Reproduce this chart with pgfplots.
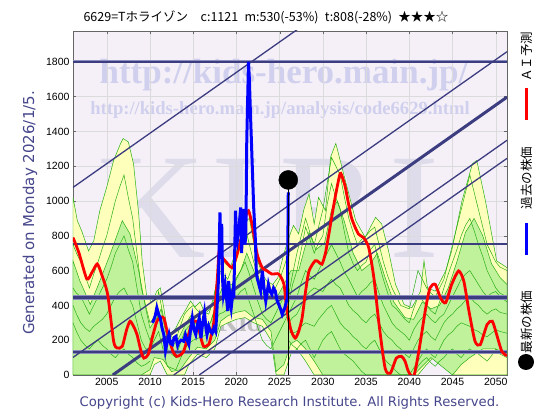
\documentclass[border=0pt]{standalone}
\usepackage{fontspec}
\setmainfont{Liberation Sans}
\newfontfamily\jp{Noto Sans CJK JP}
\newfontfamily\dv{DejaVu Sans}
\newfontfamily\lserif{Liberation Serif}
\usepackage{pgfplots}
\pgfplotsset{compat=1.18}
\definecolor{bgc}{RGB}{245,240,247}
\definecolor{wmc}{RGB}{208,208,238}
\definecolor{wmk}{RGB}{222,220,234}
\definecolor{yel}{RGB}{255,255,188}
\definecolor{lgr}{RGB}{192,242,155}
\definecolor{gln}{RGB}{40,175,20}
\definecolor{navy}{RGB}{60,60,128}
\definecolor{navyl}{RGB}{140,140,190}
\definecolor{txtb}{RGB}{70,70,140}
\begin{document}
\begin{tikzpicture}[x=1pt,y=1pt]
\path[use as bounding box, fill=white] (0,0) rectangle (560,420);
\fill[bgc] (73,45) rectangle (507,389);
% watermarks
\node[text=wmk, font=\lserif\fontsize{150}{150}\selectfont, inner sep=0] at (152,212) {K};
\node[text=wmk, font=\lserif\fontsize{150}{150}\selectfont, inner sep=0] at (236,212) {I};
\node[text=wmk, font=\lserif\fontsize{150}{150}\selectfont, inner sep=0] at (330,212) {R};
\node[text=wmk, font=\lserif\fontsize{150}{150}\selectfont, inner sep=0] at (414,212) {I};
\node[text=wmc, font=\lserif\bfseries\fontsize{35}{35}\selectfont, inner sep=0] at (284,345) {http://kids-hero.main.jp/};
\node[text=wmc, font=\lserif\bfseries\fontsize{18.6}{19}\selectfont, inner sep=0] at (280,310) {http://kids-hero.main.jp/analysis/code6629.html};
\node[text=black!25, font=\lserif\bfseries\fontsize{28}{28}\selectfont, inner sep=0] at (245,98) {Kids};
\begin{axis}[at={(73pt,45pt)}, anchor=south west, width=434pt, height=344pt, scale only axis,
  xmin=2001.1, xmax=2051.3, ymin=0, ymax=1977,
  xtick={2005,2010,...,2050}, ytick={0,200,...,1800},
  /pgf/number format/1000 sep={}, /pgf/number format/assume math mode=true,
  tick label style={font=\fontsize{10.5}{12}\selectfont},
  grid=major, grid style={draw=gray!28, line width=0.4pt},
  axis line style={draw=gray!80!black, line width=0.5pt},
  tick style={draw=gray!80!black}, major tick length=3pt,
  clip=true, axis on top=false]
% outer envelope
\addplot[fill=yel, draw=gln, line width=0.5pt] coordinates {
(2001.1,1021)(2001.6,887)(2002.1,829)(2002.9,713)(2003.5,771)(2004.2,944)(2005.0,1079)(2005.8,1233)(2006.6,1330)(2006.9,1359)(2007.5,1339)(2008.1,1214)(2008.7,925)(2009.1,656)(2009.6,463)(2010.2,415)(2010.8,482)(2011.2,501)(2011.6,386)(2012.0,260)(2012.5,240)(2013.0,270)(2013.6,330)(2014.2,380)(2014.7,425)(2015.2,390)(2015.8,420)(2016.3,360)(2016.8,350)(2017.3,420)(2017.8,560)(2018.2,720)(2018.7,640)(2019.3,620)(2019.9,700)(2020.5,780)(2021.0,880)(2021.5,900)(2022.0,760)(2022.5,650)(2023.0,580)(2023.5,540)(2024.2,520)(2024.8,560)(2025.4,680)(2026.0,780)(2026.6,860)(2027.2,811)(2027.8,950)(2028.4,1041)(2029.0,868)(2029.5,1021)(2030.3,944)(2030.9,1253)(2031.5,1331)(2032.2,1195)(2033.0,1041)(2033.8,887)(2034.9,790)(2035.5,850)(2036.1,906)(2036.8,868)(2037.6,713)(2038.4,521)(2039.4,405)(2040.3,386)(2041.3,482)(2041.7,656)(2042.1,501)(2043.0,482)(2044.2,598)(2044.9,713)(2046.1,1002)(2047.3,1214)(2047.8,1233)(2048.8,1002)(2049.6,790)(2050.1,656)(2051.3,617)
(2051.3,0)(2045.0,0)(2044.2,60)(2043.0,110)(2042.0,60)(2041.0,0)(2029.0,0)(2028.0,80)(2027.0,150)(2026.3,120)(2025.5,0)(2024.6,0)(2024.0,200)(2023.0,280)(2022.0,300)(2021.0,330)(2020.0,320)(2019.0,300)(2018.2,280)(2017.5,150)(2016.5,100)(2015.5,120)(2014.5,60)(2014.0,0)(2012.0,0)(2011.2,80)(2010.5,60)(2010.0,0)(2001.1,0)} -- cycle;
% inner envelope
\addplot[fill=lgr, draw=gln, line width=0.5pt] coordinates {
(2001.1,656)(2001.9,540)(2003.1,405)(2004.2,540)(2005.4,694)(2006.8,887)(2007.7,810)(2008.7,598)(2009.5,386)(2010.0,270)(2010.8,330)(2011.3,380)(2011.8,250)(2012.5,160)(2013.2,200)(2014.0,280)(2014.7,340)(2015.5,300)(2016.3,280)(2017.0,300)(2017.8,430)(2018.5,520)(2019.5,520)(2020.5,600)(2021.2,700)(2022.0,600)(2022.8,480)(2023.5,450)(2024.5,430)(2025.5,520)(2026.3,600)(2027.2,600)(2028.4,820)(2029.2,720)(2030.2,760)(2031.0,950)(2031.7,1000)(2032.5,880)(2033.5,700)(2034.5,600)(2035.5,640)(2036.3,700)(2037.2,560)(2038.2,420)(2039.5,330)(2040.5,320)(2041.5,420)(2042.5,380)(2043.5,400)(2044.5,500)(2045.5,650)(2046.5,820)(2047.5,900)(2048.5,800)(2049.5,640)(2050.5,560)(2051.3,520)
(2051.3,120)(2050,150)(2048.5,150)(2047,100)(2046,60)(2045,0)(2043.5,60)(2042.5,100)(2041.5,50)(2040.5,0)(2030.0,0)(2029.0,80)(2028,150)(2027,200)(2026.3,180)(2025.5,60)(2024.6,20)(2024.0,250)(2023,320)(2022,330)(2021,370)(2020,360)(2019,340)(2018.2,310)(2017.5,200)(2016.5,150)(2015.5,160)(2014.5,100)(2013.5,30)(2012.5,20)(2011.5,90)(2010.5,100)(2010.0,30)(2009.0,0)(2001.1,0)} -- cycle;
% green simulation paths
\pgfplotsset{gp/.style={draw=gln, line width=0.5pt}}
\addplot[gp] coordinates {(2026,400)(2026.5,520)(2027,600)(2027.5,720)(2028,850)(2028.5,780)(2029,700)(2029.5,760)(2030,800)(2030.5,980)(2031,1100)(2031.5,1020)(2032,950)(2032.5,820)(2033,700)(2033.5,640)(2034,600)(2034.5,630)(2035,650)(2035.5,720)(2036,750)(2036.5,640)(2037,550)(2037.5,470)(2038,400)(2038.5,380)(2039,350)(2039.5,320)(2040,300)(2040.5,380)(2041,450)(2041.5,430)(2042,400)(2042.5,370)(2043,350)(2043.5,420)(2044,500)(2044.5,580)(2045,650)(2045.5,720)(2046,800)(2046.5,860)(2047,900)(2047.5,830)(2048,750)(2048.5,680)(2049,600)(2049.5,550)(2050,500)(2050.5,470)(2051.3,450)};
\addplot[gp] coordinates {(2026,350)(2026.5,400)(2027,450)(2027.5,530)(2028,600)(2028.5,570)(2029,550)(2029.5,600)(2030,650)(2030.5,700)(2031,750)(2031.5,700)(2032,650)(2032.5,590)(2033,550)(2033.5,500)(2034,450)(2034.5,480)(2035,500)(2035.5,530)(2036,550)(2036.5,470)(2037,400)(2037.5,350)(2038,300)(2038.5,270)(2039,250)(2039.5,230)(2040,200)(2040.5,260)(2041,300)(2041.5,330)(2042,350)(2042.5,320)(2043,300)(2043.5,330)(2044,350)(2044.5,400)(2045,450)(2045.5,500)(2046,550)(2046.5,580)(2047,600)(2047.5,560)(2048,520)(2048.5,480)(2049,450)(2049.5,470)(2050,480)(2050.5,450)(2051.3,420)};
\addplot[gp] coordinates {(2026,300)(2026.5,330)(2027,350)(2027.5,400)(2028,450)(2028.5,480)(2029,500)(2029.5,490)(2030,480)(2030.5,520)(2031,550)(2031.5,520)(2032,500)(2032.5,450)(2033,400)(2033.5,370)(2034,350)(2034.5,320)(2035,300)(2035.5,330)(2036,350)(2036.5,300)(2037,250)(2037.5,220)(2038,200)(2038.5,170)(2039,150)(2039.5,120)(2040,100)(2040.5,150)(2041,200)(2041.5,230)(2042,250)(2042.5,220)(2043,200)(2043.5,250)(2044,300)(2044.5,330)(2045,350)(2045.5,380)(2046,400)(2046.5,430)(2047,450)(2047.5,420)(2048,400)(2048.5,370)(2049,350)(2049.5,370)(2050,380)(2050.5,360)(2051.3,350)};
\addplot[gp] coordinates {(2026,250)(2026.5,240)(2027,250)(2027.5,280)(2028,300)(2028.5,290)(2029,280)(2029.5,320)(2030,350)(2030.5,380)(2031,400)(2031.5,350)(2032,300)(2032.5,270)(2033,250)(2033.5,220)(2034,200)(2034.5,170)(2035,150)(2035.5,180)(2036,200)(2036.5,150)(2037,100)(2037.5,70)(2038,50)(2038.5,20)(2039,0)(2040,0)(2040.5,40)(2041,80)(2041.5,120)(2042,150)(2042.5,120)(2043,100)(2043.5,150)(2044,200)(2044.5,230)(2045,250)(2045.5,280)(2046,300)(2046.5,290)(2047,280)(2047.5,260)(2048,250)(2048.5,230)(2049,220)(2049.5,240)(2050,260)(2050.5,250)(2051.3,240)};
\addplot[gp] coordinates {(2026,200)(2026.5,170)(2027,150)(2027.5,180)(2028,200)(2028.5,150)(2029,100)(2029.5,150)(2030,200)(2030.5,230)(2031,250)(2031.5,200)(2032,150)(2032.5,120)(2033,100)(2033.5,80)(2034,50)(2034.5,20)(2035,0)(2040.5,0)(2041,50)(2041.5,80)(2042,100)(2042.5,70)(2043,50)(2043.5,80)(2044,100)(2044.5,130)(2045,150)(2045.5,120)(2046,100)(2046.5,130)(2047,150)(2047.5,130)(2048,120)(2048.5,100)(2049,80)(2049.5,110)(2050,150)(2050.5,120)(2051.3,100)};
\addplot[gp] coordinates {(2026,450)(2026.5,580)(2027,700)(2027.5,800)(2028,900)(2028.5,820)(2029,750)(2029.5,850)(2030,950)(2030.5,1100)(2031,1250)(2031.5,1200)(2032,1150)(2032.5,1020)(2033,900)(2033.5,820)(2034,750)(2034.5,780)(2035,800)(2035.5,830)(2036,850)(2036.5,750)(2037,650)(2037.5,570)(2038,500)(2038.5,450)(2039,400)(2039.5,390)(2040,380)(2040.5,490)(2041,600)(2041.5,550)(2042,500)(2042.5,470)(2043,450)(2043.5,500)(2044,550)(2044.5,650)(2045,750)(2045.5,850)(2046,950)(2046.5,1050)(2047,1150)(2047.5,1050)(2048,950)(2048.5,850)(2049,750)(2049.5,700)(2050,650)(2050.5,620)(2051.3,600)};
\addplot[gp] coordinates {(2001.1,750)(2001.5,700)(2002,650)(2002.5,570)(2003,500)(2003.5,580)(2004,650)(2004.5,730)(2005,800)(2005.5,900)(2006,1000)(2006.5,1080)(2007,1150)(2007.5,1020)(2008,900)(2008.5,700)(2009,500)(2009.5,400)(2010,300)(2010.5,330)(2011,480)(2011.5,350)(2012,250)(2012.5,220)(2013,200)(2013.5,280)(2014,350)(2014.5,380)(2015,400)(2015.5,370)(2016,350)(2016.5,360)(2017,380)(2017.5,480)(2018,600)(2018.5,580)(2019,550)(2019.5,620)(2020,700)(2020.5,780)(2021,850)(2021.5,750)(2022,650)(2022.5,570)(2023,500)(2023.5,470)(2024,450)(2024.5,500)(2025,550)(2025.5,620)(2026,700)};
\addplot[gp] coordinates {(2001.1,500)(2001.5,470)(2002,450)(2002.5,400)(2003,350)(2003.5,400)(2004,450)(2004.5,500)(2005,550)(2005.5,620)(2006,700)(2006.5,750)(2007,800)(2007.5,720)(2008,650)(2008.5,500)(2009,350)(2009.5,270)(2010,200)(2010.5,260)(2011,350)(2011.5,250)(2012,150)(2012.5,120)(2013,100)(2013.5,180)(2014,250)(2014.5,280)(2015,300)(2015.5,290)(2016,280)(2016.5,290)(2017,300)(2017.5,380)(2018,450)(2018.5,450)(2019,450)(2019.5,500)(2020,550)(2020.5,600)(2021,650)(2021.5,580)(2022,500)(2022.5,420)(2023,350)(2023.5,320)(2024,300)(2024.5,350)(2025,400)(2025.5,450)(2026,500)};
\addplot[gp] coordinates {(2001.1,400)(2001.5,350)(2002,300)(2002.5,270)(2003,250)(2003.5,280)(2004,300)(2004.5,320)(2005,350)(2005.5,400)(2006,450)(2006.5,480)(2007,500)(2007.5,450)(2008,400)(2008.5,300)(2009,200)(2009.5,150)(2010,150)(2010.5,200)(2011,250)(2011.5,150)(2012,50)(2012.5,40)(2013,30)(2013.5,90)(2014,150)(2014.5,180)(2015,200)(2015.5,210)(2016,220)(2016.5,230)(2017,250)(2017.5,300)(2018,350)(2018.5,360)(2019,380)(2019.5,420)(2020,450)(2020.5,480)(2021,500)(2021.5,420)(2022,350)(2022.5,270)(2023,200)(2023.5,170)(2024,150)(2024.5,200)(2025,250)(2025.5,300)(2026,350)};
\addplot[gp] coordinates {(2001.1,300)(2001.5,250)(2002,200)(2002.5,170)(2003,150)(2003.5,180)(2004,200)(2004.5,170)(2005,150)(2005.5,120)(2006,100)(2006.5,130)(2007,150)(2007.5,120)(2008,100)(2008.5,70)(2009,50)(2009.5,60)(2010,80)};
% horizontal lines
\addplot[navyl, line width=2.6pt] coordinates {(2001.1,1800)(2051.3,1800)};
\addplot[navy, line width=1.6pt] coordinates {(2001.1,1800)(2051.3,1800)};
\addplot[navyl, line width=2.6pt] coordinates {(2001.1,752)(2051.3,752)};
\addplot[navy, line width=1.6pt] coordinates {(2001.1,752)(2051.3,752)};
\addplot[navyl, line width=5pt] coordinates {(2001.1,445)(2051.3,445)};
\addplot[navy, line width=3.4pt] coordinates {(2001.1,445)(2051.3,445)};
\addplot[navyl, line width=4pt] coordinates {(2001.1,133)(2051.3,133)};
\addplot[navy, line width=2.4pt] coordinates {(2001.1,133)(2051.3,133)};
% diagonal channel lines
\addplot[navy, line width=1.3pt] coordinates {(2001.1,1078)(2028.0,2019)};
\addplot[navy, line width=1.3pt] coordinates {(2001.1,101)(2051.3,1858)};
\addplot[navy, line width=3pt] coordinates {(2005.7,0)(2051.3,1597)};
\addplot[navy, line width=1.3pt] coordinates {(2012.75,0)(2051.3,1349)};
\addplot[navy, line width=1.3pt] coordinates {(2015.7,0)(2051.3,1245)};
% AI prediction (red)
\addplot[red, line width=2.8pt, smooth, tension=0.4] coordinates {
(2001.1,790)(2001.8,700)(2002.7,552)(2003.3,590)(2003.9,638)(2004.4,580)(2005.1,465)(2005.8,194)(2006.2,155)(2006.8,165)(2007.3,260)(2007.7,309)(2008.1,280)(2008.5,233)(2009.0,130)(2009.3,97)(2009.8,118)(2010.3,220)(2010.8,309)(2011.2,330)(2011.6,328)(2012.0,250)(2012.3,193)(2012.7,130)(2013.1,107)(2013.5,115)(2013.9,136)(2014.4,220)(2014.8,291)(2015.2,310)(2015.5,300)(2015.8,233)(2016.2,165)(2016.8,176)(2017.1,230)(2017.4,309)(2017.8,559)(2018.0,713)(2018.3,680)(2018.7,656)(2019.5,617)(2020.0,680)(2020.6,790)(2021.0,900)(2021.4,944)(2021.8,868)(2022.4,695)(2023.0,615)(2023.5,600)(2024.1,580)(2024.9,580)(2025.5,521)(2025.8,386)(2026.3,260)(2026.8,212)(2027.2,250)(2027.6,328)(2028.0,480)(2028.4,598)(2029.1,656)(2029.5,650)(2029.9,637)(2030.3,700)(2030.7,811)(2031.1,930)(2031.5,1041)(2032.0,1158)(2032.3,1130)(2032.6,1079)(2033.3,906)(2034.1,811)(2034.7,790)(2035.3,733)(2035.9,559)(2036.5,291)(2037.2,39)(2037.8,10)(2038.5,97)(2039.1,107)(2039.5,80)(2039.9,20)(2040.5,-10)(2041.1,136)(2041.9,386)(2042.4,501)(2043.0,521)(2043.6,444)(2044.2,415)(2044.9,521)(2045.7,598)(2046.3,540)(2046.9,367)(2047.6,194)(2048.2,174)(2049.0,290)(2049.6,309)(2050.1,233)(2050.7,136)(2051.3,110)};
% past price (blue)
\addplot[blue, line width=3pt] coordinates {
(2010.3,300)(2010.6,338)(2010.8,386)(2011.0,348)(2011.2,328)(2011.4,270)(2011.6,233)(2011.8,140)(2012.0,190)(2012.2,232)(2012.4,180)(2012.6,174)(2012.8,215)(2013.0,222)(2013.2,170)(2013.3,184)(2013.6,200)(2013.9,194)(2014.1,232)(2014.3,200)(2014.5,175)(2014.7,260)(2014.9,328)(2015.1,260)(2015.3,232)(2015.5,290)(2015.7,328)(2015.9,212)(2016.1,300)(2016.3,360)(2016.5,260)(2016.6,232)(2016.8,280)(2017.0,251)(2017.2,240)(2017.4,270)(2017.6,250)(2017.7,328)(2017.9,521)(2018.0,713)(2018.1,935)(2018.2,700)(2018.3,868)(2018.4,550)(2018.5,463)(2018.7,521)(2018.9,420)(2019.0,367)(2019.1,540)(2019.3,420)(2019.4,386)(2019.6,480)(2019.7,444)(2019.8,700)(2019.9,944)(2020.0,800)(2020.1,771)(2020.3,850)(2020.5,963)(2020.6,700)(2020.7,848)(2020.9,954)(2021.0,750)(2021.1,829)(2021.2,1349)(2021.4,1801)(2021.5,1700)(2021.6,1541)(2021.8,1252)(2022.0,963)(2022.2,771)(2022.3,600)(2022.4,559)(2022.6,520)(2022.8,482)(2023.0,598)(2023.2,500)(2023.4,425)(2023.7,521)(2023.9,480)(2024.1,463)(2024.3,500)(2024.5,482)(2024.7,430)(2024.9,405)(2025.1,380)(2025.3,348)(2025.6,386)(2025.9,444)(2026.0,1050)};
% latest price marker
\addplot[black, line width=1.2pt] coordinates {(2026.0,0)(2026.0,1121)};
\addplot[only marks, mark=*, mark size=9.5pt, black] coordinates {(2026.0,1121)};
\end{axis}
% title
\node[font=\jp\fontsize{12.5}{14}\selectfont, inner sep=0] at (266,403) {6629=Tホライゾン\quad c:1121\enspace m:530(-53\%)\enspace t:808(-28\%)\enspace ★★★☆};
% y label
\node[rotate=90, text=txtb, font=\dv\fontsize{15}{17}\selectfont, inner sep=0] at (30,207) {Generated on Monday 2026/1/5.};
% copyright
\node[text=txtb, font=\dv\fontsize{13.2}{15}\selectfont, inner sep=0] at (289.5,17) {Copyright (c) Kids-Hero Research Institute. All Rights Reserved.};
% legend
\node[rotate=90, font=\jp\fontsize{12.5}{14}\selectfont, inner sep=0] at (527,363) {ＡＩ予測};
\draw[red, line width=3pt] (526,300) -- (526,332);
\node[rotate=90, font=\jp\fontsize{12.5}{14}\selectfont, inner sep=0] at (527,242) {過去の株価};
\draw[blue, line width=3pt] (526,165) -- (526,197);
\node[rotate=90, font=\jp\fontsize{12.5}{14}\selectfont, inner sep=0] at (527,98) {最新の株価};
\fill[black] (526,58) circle (8);
\end{tikzpicture}
\end{document}
